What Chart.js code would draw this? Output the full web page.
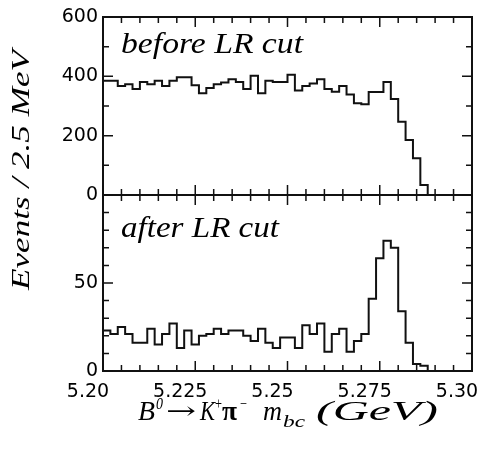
<!DOCTYPE html>
<html>
<head>
<meta charset="utf-8">
<script src="https://cdn.jsdelivr.net/npm/chart.js@4"></script>
<style>
  html, body { margin: 0; padding: 0; background: #fff; }
</style>
</head>
<body>
<canvas id="mbc" width="487" height="453"></canvas>
<script>
// 50 bins, 2 MeV wide, from 5.20 to 5.30 GeV
const binStart = 5.20;
const binWidth = 0.002;

const beforeCut = [363, 385, 385, 367, 373, 357, 381, 373, 385, 367,
                   385, 397, 397, 370, 343, 361, 373, 379, 390, 381,
                   357, 402, 343, 385, 381, 381, 405, 352, 367, 376,
                   390, 357, 348, 367, 339, 309, 306, 347, 347, 381,
                   324, 247, 185, 124, 34, 0, 0, 0, 0, 0];

const afterCut = [13, 23, 21, 25, 21, 16, 16, 24, 15, 21,
                  27, 13, 23, 15, 20, 21, 24, 21, 23, 23,
                  20, 17, 24, 16, 13, 19, 19, 13, 26, 21,
                  27, 11, 21, 24, 11, 17, 21, 41, 64, 74,
                  70, 34, 16, 4, 3, 0, 0, 0, 0, 0];

const xTicks = [5.20, 5.225, 5.25, 5.275, 5.30];
const xTickLabels = ['5.20', '5.225', '5.25', '5.275', '5.30'];
const topTicks = [0, 200, 400, 600];
const bottomTicks = [0, 50];

const ink = '#111';
const tickFont = { family: 'DejaVu Sans', size: 19 };
const serif = '"Liberation Serif"';

function toSteps(vals) {
    const pts = vals.map((v, i) => ({ x: binStart + i * binWidth, y: v }));
    pts.push({ x: binStart + vals.length * binWidth, y: vals[vals.length - 1] });
    return pts;
}

// draw a piece of text squeezed/stretched to a given width
function fitText(ctx, text, font, x, y, w) {
    ctx.font = font;
    const nat = ctx.measureText(text).width;
    ctx.save();
    ctx.translate(x, y);
    ctx.scale(w / nat, 1);
    ctx.fillText(text, 0, 0);
    ctx.restore();
}

const framePlugin = {
    id: 'frame',
    afterDatasetsDraw(chart) {
        const ctx = chart.ctx;
        const x = chart.scales.x, yt = chart.scales.yTop, yb = chart.scales.yBot;
        const L = x.left, R = x.right;
        ctx.save();
        ctx.strokeStyle = ink;
        ctx.lineWidth = 2;
        ctx.strokeRect(L, yt.top, R - L, yt.bottom - yt.top);
        ctx.strokeRect(L, yb.top, R - L, yb.bottom - yb.top);

        ctx.lineWidth = 1.5;
        ctx.beginPath();
        const seg = (x1, y1, x2, y2) => { ctx.moveTo(x1, y1); ctx.lineTo(x2, y2); };
        for (let k = 0; k <= 20; k++) {
            const px = x.getPixelForValue(5.20 + k * 0.005);
            const len = k % 5 === 0 ? 10 : 6;
            seg(px, yt.top, px, yt.top + len);
            seg(px, yt.bottom - len, px, yt.bottom + len);
            seg(px, yb.bottom - len, px, yb.bottom);
        }
        for (let v = 0; v <= 600; v += 100) {
            const py = yt.getPixelForValue(v);
            const len = v % 200 === 0 ? 10 : 6;
            seg(L, py, L + len, py);
            seg(R - len, py, R, py);
        }
        for (let v = 0; v <= 100; v += 10) {
            const py = yb.getPixelForValue(v);
            const len = v % 50 === 0 ? 10 : 6;
            seg(L, py, L + len, py);
            seg(R - len, py, R, py);
        }
        ctx.stroke();

        // texts
        ctx.fillStyle = '#000';
        ctx.textAlign = 'left';
        ctx.textBaseline = 'alphabetic';
        fitText(ctx, 'before LR cut', 'italic 30px ' + serif, 121, 53, 182);
        fitText(ctx, 'after LR cut', 'italic 30px ' + serif, 121, 237, 158);

        ctx.save();
        ctx.translate(29, 290);
        ctx.rotate(-Math.PI / 2);
        fitText(ctx, 'Events / 2.5 MeV', 'italic 26px ' + serif, 0, 0, 240);
        ctx.restore();

        const it = 'italic 28px ' + serif;
        const sm = 'italic 17px ' + serif;
        fitText(ctx, 'B', it, 138, 420, 17);
        fitText(ctx, '0', sm, 156, 409, 7);
        fitText(ctx, '\u2192', '24px "DejaVu Serif"', 166, 419, 30);
        fitText(ctx, 'K', it, 200, 420, 15);
        fitText(ctx, '+', '16px ' + serif, 215, 409, 7);
        fitText(ctx, '\u03c0', 'bold 27px ' + serif, 222, 420, 15);
        fitText(ctx, '\u2212', '16px ' + serif, 240, 409, 7);
        fitText(ctx, 'm', it, 263, 420, 19);
        fitText(ctx, 'bc', sm, 283, 427, 22);
        fitText(ctx, '(GeV)', it, 316, 420, 122);
        ctx.restore();
    }
};

const ctx = document.getElementById('mbc').getContext('2d');
new Chart(ctx, {
    type: 'line',
    data: {
        datasets: [
            {
                label: 'before LR cut',
                data: toSteps(beforeCut),
                yAxisID: 'yTop',
                stepped: 'after',
                borderColor: ink,
                borderWidth: 2,
                pointRadius: 0,
                fill: false
            },
            {
                label: 'after LR cut',
                data: toSteps(afterCut),
                yAxisID: 'yBot',
                stepped: 'after',
                borderColor: ink,
                borderWidth: 2,
                pointRadius: 0,
                fill: false
            }
        ]
    },
    options: {
        responsive: false,
        animation: false,
        devicePixelRatio: 1,
        layout: { padding: { left: 43, right: 15, top: 17, bottom: 42 } },
        plugins: {
            legend: { display: false },
            tooltip: { enabled: false }
        },
        scales: {
            x: {
                type: 'linear',
                min: 5.20,
                max: 5.30,
                grid: { display: false, drawTicks: false },
                border: { display: false },
                afterBuildTicks: s => { s.ticks = xTicks.map(v => ({ value: v })); },
                afterFit: s => {
                    s.height = 40;
                    s.paddingLeft = 0;
                    s.paddingRight = 0;
                },
                ticks: {
                    color: '#000',
                    font: tickFont,
                    padding: 10,
                    labelOffset: -15,
                    maxRotation: 0,
                    autoSkip: false,
                    callback: (v, i) => xTickLabels[i]
                }
            },
            yBot: {
                type: 'linear',
                position: 'left',
                stack: 'panels',
                stackWeight: 176,
                min: 0,
                max: 100,
                grid: { display: false, drawTicks: false },
                border: { display: false },
                afterBuildTicks: s => { s.ticks = bottomTicks.map(v => ({ value: v })); },
                afterFit: s => { s.width = 60; s.paddingTop = 0; s.paddingBottom = 0; },
                ticks: { color: '#000', font: tickFont, padding: 5 }
            },
            yTop: {
                type: 'linear',
                position: 'left',
                stack: 'panels',
                stackWeight: 178,
                min: 0,
                max: 600,
                grid: { display: false, drawTicks: false },
                border: { display: false },
                afterBuildTicks: s => { s.ticks = topTicks.map(v => ({ value: v })); },
                afterFit: s => { s.width = 60; s.paddingTop = 0; s.paddingBottom = 0; },
                ticks: { color: '#000', font: tickFont, padding: 5 }
            }
        }
    },
    plugins: [framePlugin]
});
</script>
</body>
</html>
